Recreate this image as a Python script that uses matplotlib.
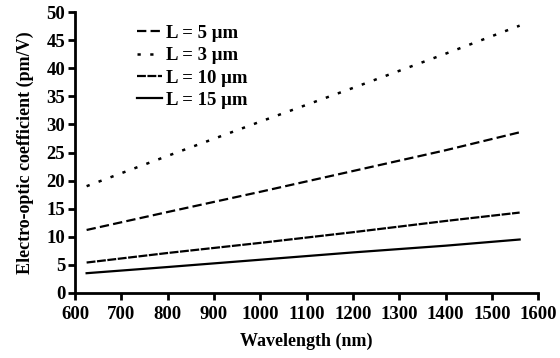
import matplotlib
matplotlib.use("Agg")
import matplotlib.pyplot as plt

wavelength = [625, 800, 1000, 1200, 1400, 1560]
eo_L5 = [11.2, 14.4, 18.0, 21.7, 25.4, 28.6]
eo_L3 = [19.0, 24.4, 30.5, 36.5, 42.6, 47.6]
eo_L10 = [5.4, 7.1, 8.9, 10.8, 12.8, 14.3]
eo_L15 = [3.5, 4.6, 5.9, 7.2, 8.4, 9.5]
labels = ["L = 5 \u03bcm", "L = 3 \u03bcm", "L = 10 \u03bcm", "L = 15 \u03bcm"]
xticks = list(range(600, 1601, 100))
yticks = list(range(0, 51, 5))

plt.rcParams['font.family'] = ['Liberation Serif', 'DejaVu Serif']
plt.rcParams['font.weight'] = 'bold'

fig = plt.figure(figsize=(5.6, 3.58), dpi=100)
ax = fig.add_axes([0.134, 0.182, 0.827, 0.784])

lw = 1.6
ax.plot(wavelength, eo_L5, color='black', lw=lw, linestyle=(0, (4.2, 1.9)), label=labels[0])
ax.plot(wavelength, eo_L3, color='black', lw=lw + 0.2, linestyle=(0, (1.3, 3.8)), label=labels[1])
ax.plot(wavelength, eo_L10, color='black', lw=lw, linestyle=(0, (4.0, 0.7)), label=labels[2])
ax.plot(wavelength, eo_L15, color='black', lw=lw, linestyle='-', label=labels[3])

ax.set_xlim(600, 1600)
ax.set_ylim(0, 50)
ax.set_xticks(xticks)
ax.set_yticks(yticks)
ax.tick_params(direction='out', length=5, width=2, labelsize=13.5)
ax.tick_params(axis='x', pad=4.5)
ax.tick_params(axis='y', pad=2)
for lab in ax.get_xticklabels() + ax.get_yticklabels():
    lab.set_fontweight('bold')
for s in ['top', 'right']:
    ax.spines[s].set_visible(False)
for s in ['left', 'bottom']:
    ax.spines[s].set_linewidth(2)

ax.set_xlabel('Wavelength (nm)', fontsize=13, fontweight='bold', labelpad=7)
ax.set_ylabel('Electro-optic coefficient (pm/V)', fontsize=13, fontweight='bold', labelpad=9)

leg = ax.legend(loc='upper left', bbox_to_anchor=(0.134, 0.955), frameon=False,
                fontsize=13.5, handlelength=1.35, handletextpad=0.2, labelspacing=0.28,
                borderaxespad=0, borderpad=0)

fig.savefig('out.png', dpi=100)
